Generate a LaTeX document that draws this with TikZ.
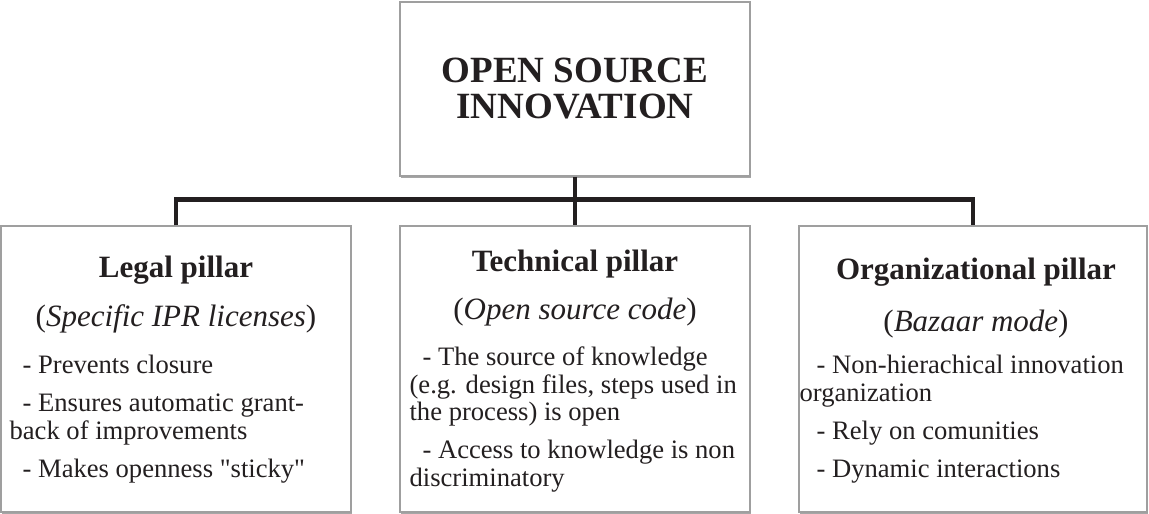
\documentclass[tikz,border=0pt]{standalone}
\usepackage{fontspec}
\setmainfont{Liberation Serif}[Ligatures=TeXOff]
\usetikzlibrary{positioning, shadows}
\definecolor{inkgray}{HTML}{231F20}

\begin{document}
\begin{tikzpicture}[x=1pt,y=-1pt,text=inkgray,
        pillar/.style={draw=gray!75,line width=1.2pt,fill=white,minimum width=350pt,minimum height=286pt,inner sep=0pt,
          drop shadow={shadow xshift=1pt,shadow yshift=-1.5pt,opacity=0.35,fill=black}},
        ptitle/.style={anchor=base,inner sep=0pt,font=\fontsize{31}{34}\selectfont\bfseries},
        psub/.style={anchor=base,inner sep=0pt,font=\fontsize{31}{34}\selectfont},
        pbody/.style={anchor=base west,align=left,inner sep=0pt,font=\fontsize{26.6}{27.5}\selectfont},
        bus/.style={line width=4.3pt,draw=inkgray}]
    \useasboundingbox (0,0) rectangle (1149,514);

      \node[pillar,minimum height=174pt,align=center,font=\fontsize{37}{36}\selectfont\bfseries] (osi) at (575,89) {OPEN SOURCE\\INNOVATION};
      \node[pillar] (legal) at (176,369) {};
      \node[pillar] (tech) at (575,369) {};
      \node[pillar,minimum width=348pt] (org) at (973,369) {};

      \draw[bus] (osi.south) -- (tech.north);
      \draw[bus] (legal.north) -- ++(0,-26) -| (org.north);

      % body nodes sit on the baseline of their last line
      \node[ptitle] (legalhead) at ([yshift=-52pt]legal.north) {Legal pillar};
      \node[psub] (legalsub) at ([yshift=-101pt]legal.north) {(\textit{Specific IPR licenses})};
      \node[pbody] (legaltext) at ([xshift=9pt,yshift=-252pt]legal.north west)
        {\hspace{13pt}- Prevents closure\\[10.5pt]\hspace{13pt}- Ensures automatic grant-\\back of improvements\\[10.5pt]\hspace{13pt}- Makes openness "sticky"};

      \node[ptitle] (techhead) at ([yshift=-46pt]tech.north) {Technical pillar};
      \node[psub] (techsub) at ([yshift=-94pt]tech.north) {(\textit{Open source code})};
      \node[pbody] (techtext) at ([xshift=10pt,yshift=-261pt]tech.north west)
        {\hspace{13pt}- The source of knowledge\\(e.g. design files, steps used in\\the process) is open\\[10.5pt]\hspace{13pt}- Access to knowledge is non\\discriminatory};

      \node[ptitle] (orghead) at ([xshift=3pt,yshift=-54pt]org.north) {Organizational pillar};
      \node[psub] (orgsub) at ([xshift=3pt,yshift=-106pt]org.north) {(\textit{Bazaar mode})};
      \node[pbody] (orgtext) at ([xshift=1pt,yshift=-252pt]org.north west)
        {\hspace{17pt}- Non-hierachical innovation\\organization\\[10.5pt]\hspace{17pt}- Rely on comunities\\[10.5pt]\hspace{17pt}- Dynamic interactions};
    \end{tikzpicture}
\end{document}
